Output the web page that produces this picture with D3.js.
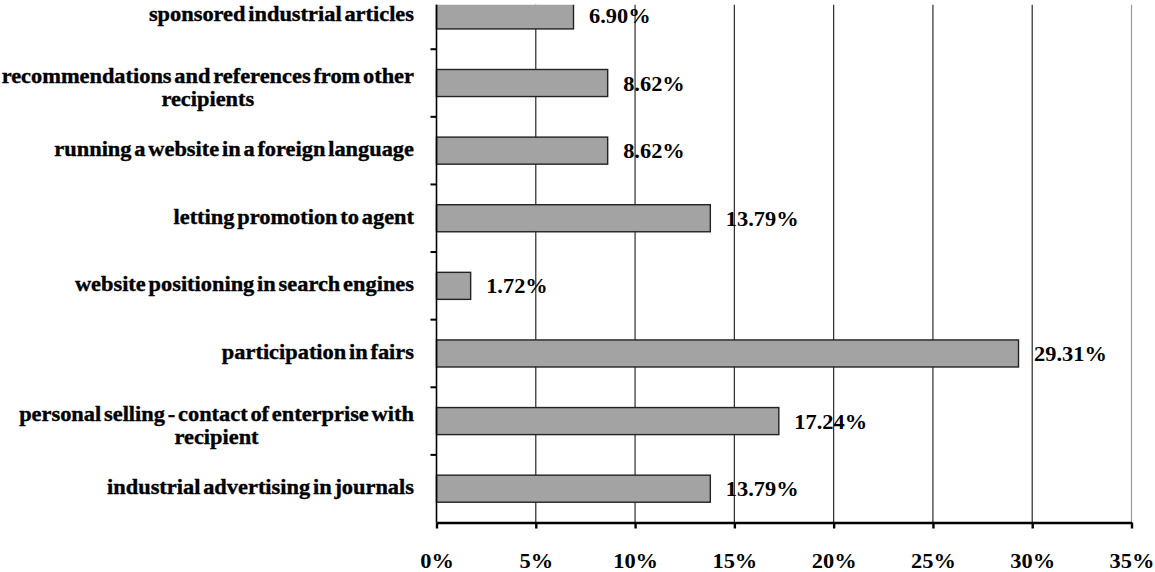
<!DOCTYPE html>
<html>
<head>
<meta charset="utf-8">
<script src="https://cdn.jsdelivr.net/npm/d3@7"></script>
<style>
  html, body { margin: 0; padding: 0; background: #fff; }
  svg { display: block; }
  text { font-family: "Liberation Serif", "Times New Roman", serif; font-weight: bold; fill: #000; }
</style>
</head>
<body>
<svg id="chart" width="1155" height="572"></svg>
<script>
// Promotion methods (top to bottom) and their shares
const categories = [
  "sponsored industrial articles",
  "recommendations and references from other\nrecipients",
  "running a website in a foreign language",
  "letting promotion to agent",
  "website positioning in search engines",
  "participation in fairs",
  "personal selling - contact of enterprise with\nrecipient",
  "industrial advertising in journals"
];
const shares = [6.90, 8.62, 8.62, 13.79, 1.72, 29.31, 17.24, 13.79];
const xTicks = [0, 5, 10, 15, 20, 25, 30, 35];

const svg = d3.select("#chart");
const stretch = 1.12;          // wide Times-style lettering
const fontSize = 20;
const plotTop = 4.7;           // visible top edge of the plot area
const axisY = 522.5;

const x = d3.scaleLinear().domain([0, 35]).range([436.5, 1131.5]);
const y = d3.scaleBand()
  .domain(categories)
  .range([-18.4, axisY])
  .paddingInner(0.6)
  .paddingOuter(0.3);

svg.append("defs").append("clipPath").attr("id", "plotClip")
  .append("rect")
  .attr("x", 0).attr("y", plotTop)
  .attr("width", 1155).attr("height", axisY - plotTop);

// vertical gridlines
svg.append("g").selectAll("line")
  .data(xTicks.filter(d => d > 0))
  .join("line")
  .attr("x1", d => x(d)).attr("x2", d => x(d))
  .attr("y1", plotTop).attr("y2", axisY)
  .attr("stroke", d => d === 35 ? "#9a9a9a" : "#2a2a2a")
  .attr("stroke-width", 1.2);

// bars
const plot = svg.append("g").attr("clip-path", "url(#plotClip)");
plot.selectAll("rect")
  .data(categories)
  .join("rect")
  .attr("x", x(0))
  .attr("y", d => y(d))
  .attr("width", (d, i) => x(shares[i]) - x(0))
  .attr("height", y.bandwidth())
  .attr("fill", "#a3a3a3")
  .attr("stroke", "#222")
  .attr("stroke-width", 1.4);

// y axis line and category separator ticks
svg.append("line")
  .attr("x1", x(0)).attr("x2", x(0))
  .attr("y1", plotTop).attr("y2", axisY)
  .attr("stroke", "#000").attr("stroke-width", 1.6);

const step = y.step();
const r0 = y.range()[0];
svg.append("g").selectAll("line")
  .data(d3.range(1, categories.length))
  .join("line")
  .attr("x1", x(0) - 6).attr("x2", x(0))
  .attr("y1", k => r0 + k * step).attr("y2", k => r0 + k * step)
  .attr("stroke", "#000").attr("stroke-width", 2);

// x axis
const xAxis = svg.append("g")
  .attr("transform", `translate(0,${axisY})`)
  .call(d3.axisBottom(x).tickValues(xTicks).tickFormat(d => d + "%").tickSize(6).tickSizeOuter(0));
xAxis.select(".domain").attr("stroke", "#000").attr("stroke-width", 2.4);
xAxis.selectAll(".tick line").attr("stroke", "#000").attr("stroke-width", 2.4);
xAxis.selectAll(".tick text").remove();
xAxis.selectAll(".tick").append("g")
  .attr("transform", `translate(0,45.5) scale(${stretch},1)`)
  .append("text")
  .attr("text-anchor", "middle")
  .attr("font-size", fontSize)
  .text(d => d + "%");

// category labels: right aligned block, lines centred within it
const labelRight = 414;
const lineH = 23;
categories.forEach((cat, i) => {
  const lines = cat.split("\n");
  const cy = y(cat) + y.bandwidth() / 2;
  const g = svg.append("g")
    .attr("transform", `translate(${labelRight},0) scale(${stretch},1)`);
  const texts = lines.map((ln, j) => {
    const base = cy + 5.5 + (j - (lines.length - 1) / 2) * lineH + (lines.length > 1 ? 6 : 0);
    return g.append("text")
      .attr("y", base)
      .attr("font-size", fontSize)
      .attr("word-spacing", -2.5)
      .attr("stroke", "#000").attr("stroke-width", 0.35)
      .attr("text-anchor", "middle")
      .text(ln);
  });
  const maxW = d3.max(texts, t => t.node().getBBox().width);
  texts.forEach(t => t.attr("x", -maxW / 2));
});

// value labels
svg.append("g").selectAll("g")
  .data(categories)
  .join("g")
  .attr("transform", (d, i) => `translate(${x(shares[i]) + 15.5},${y(d) + y.bandwidth() / 2 + 7.5}) scale(${stretch},1)`)
  .append("text")
  .attr("font-size", fontSize)
  .text((d, i) => shares[i].toFixed(2) + "%");
</script>
</body>
</html>
